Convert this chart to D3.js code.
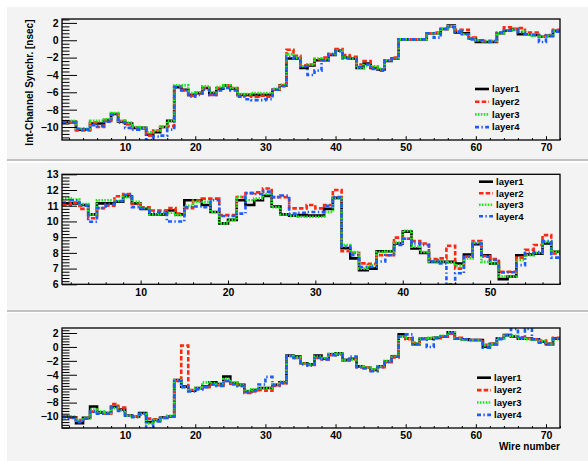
<!DOCTYPE html>
<html>
<head>
<meta charset="utf-8">
<script src="https://cdn.jsdelivr.net/npm/d3@7"></script>
<style>
  html, body { margin: 0; padding: 0; background: #ffffff; }
  svg { display: block; font-family: "Liberation Sans", Arial, Helvetica, sans-serif; font-weight: bold; }
</style>
</head>
<body>
<svg id="canvas" width="588" height="461"></svg>
<script>
// ---- data: per-wire synchronisation offsets (nsec), one array per layer ----
const layerNames = ["layer1", "layer2", "layer3", "layer4"];

// top panel, wires 1..71
const topLayer1 = [-9.4,-9.4,-10.3,-10.3,-9.6,-9.6,-9.2,-8.5,-9.4,-9.6,-10.1,-10.1,-10.9,-10.6,-10.0,-9.3,
  -5.4,-5.7,-6.3,-6.1,-5.5,-6.1,-5.6,-5.2,-5.6,-6.3,-6.3,-6.3,-6.3,-6.3,-5.7,-5.2,
  -2.1,-2.1,-3.2,-2.9,-2.3,-2.3,-1.7,-1.2,-2.0,-2.1,-3.2,-2.7,-3.2,-3.4,-2.4,-2.1,
  0.1,0.1,0.1,0.1,0.8,0.8,1.3,1.7,0.9,0.8,0.2,-0.2,-0.2,-0.2,0.8,1.1,
  1.3,0.7,0.7,0.6,0.4,0.5,1.1];
const topLayer2 = [-9.5,-9.5,-10.4,-10.4,-9.5,-10.0,-9.3,-8.5,-9.3,-9.7,-10.1,-10.2,-11.0,-10.4,-10.0,-9.9,
  -5.3,-5.8,-6.4,-6.1,-5.5,-6.3,-5.5,-5.2,-5.5,-6.3,-6.4,-6.5,-6.4,-6.5,-5.7,-5.2,
  -1.1,-1.8,-2.9,-2.8,-2.2,-2.0,-1.6,-1.0,-1.7,-1.9,-2.8,-2.4,-3.1,-3.5,-2.3,-2.0,
  0.1,0.1,0.1,0.1,0.8,0.9,1.3,1.6,1.2,1.2,0.3,0.0,-0.1,-0.1,0.9,1.5,
  1.3,1.4,0.9,0.9,0.4,0.6,1.2];
const topLayer3 = [-9.3,-9.3,-10.2,-10.2,-9.3,-9.3,-9.1,-8.4,-9.3,-9.5,-10.0,-10.1,-10.6,-10.4,-10.0,-9.3,
  -5.2,-5.2,-6.1,-6.0,-5.3,-6.0,-5.4,-5.2,-5.5,-6.2,-6.2,-6.1,-6.1,-6.1,-5.6,-5.1,
  -1.6,-2.0,-3.0,-2.8,-2.1,-2.2,-1.6,-1.2,-2.0,-2.1,-3.2,-2.9,-3.0,-3.3,-2.3,-2.1,
  0.1,0.1,0.1,0.1,0.8,0.8,1.3,1.6,1.0,0.7,0.2,0.0,-0.1,-0.1,0.8,1.1,
  1.2,1.0,0.7,0.5,0.4,0.5,1.1];
const topLayer4 = [-9.5,-9.5,-10.2,-10.3,-9.8,-9.9,-9.4,-8.6,-9.5,-10.1,-10.3,-10.2,-11.5,-11.1,-11.0,-10.3,
  -5.4,-5.8,-6.5,-6.3,-5.7,-6.3,-5.8,-5.5,-5.8,-6.5,-6.8,-6.9,-6.9,-6.8,-5.7,-5.3,
  -1.9,-2.1,-3.0,-4.0,-3.5,-2.3,-1.6,-1.3,-2.1,-2.1,-3.1,-2.8,-3.3,-3.4,-2.3,-2.1,
  0.1,0.1,0.1,0.1,0.8,0.3,1.3,1.5,1.0,0.7,0.1,0.0,-0.2,-0.1,0.9,1.1,
  1.2,0.9,0.7,0.6,-0.2,0.5,1.0];

// middle panel, wires 1..57
const midLayer1 = [11.15,11.15,11.05,10.45,11.15,11.15,11.25,11.6,11.15,10.8,
  10.45,10.45,10.7,10.45,11.35,11.35,11.05,10.6,9.88,10.1,
  11.35,11.05,11.35,11.63,10.95,10.45,10.37,10.4,10.37,10.37,
  10.8,11.5,8.3,7.65,6.9,7.0,8.1,8.1,8.6,9.35,
  8.28,8.0,7.43,7.43,7.43,7.32,7.9,8.55,7.85,7.32,
  6.33,6.5,7.85,7.9,7.95,8.6,8.07];
const midLayer2 = [11.05,11.2,10.8,10.2,10.85,11.0,11.6,11.75,11.1,10.9,
  10.7,10.7,10.85,10.5,10.85,11.35,11.45,11.45,10.4,10.4,
  11.55,11.8,11.85,12.1,11.55,11.55,10.83,10.83,11.05,10.83,
  11.05,12.0,8.1,8.0,7.33,7.3,7.85,7.85,8.97,8.9,
  8.75,8.6,7.6,7.65,8.45,7.0,7.75,8.75,7.8,7.6,
  6.8,6.8,7.7,8.2,8.5,9.13,7.97];
const midLayer3 = [11.47,11.4,11.1,10.45,11.35,11.35,11.3,11.55,11.25,10.85,
  10.45,10.5,10.55,10.4,11.0,11.25,11.25,10.6,9.88,10.1,
  11.57,11.35,11.45,11.75,10.9,10.45,10.37,10.3,10.3,10.3,
  10.6,11.45,8.5,8.05,7.0,7.2,8.05,8.1,8.65,9.4,
  8.4,8.05,7.45,7.43,7.38,7.2,7.65,8.65,7.43,7.32,
  6.5,6.5,7.55,7.85,8.0,8.7,8.07];
const midLayer4 = [11.2,11.35,11.0,9.98,10.85,11.1,11.3,11.7,10.9,10.85,
  10.6,10.6,10.0,10.0,10.9,10.95,10.9,11.35,10.35,10.35,
  10.5,11.8,11.75,11.9,11.55,11.65,10.5,10.55,10.6,10.6,
  11.0,11.55,8.4,7.85,7.1,7.1,7.45,7.85,8.5,8.9,
  8.6,8.5,7.45,7.32,6.0,6.7,7.75,8.6,7.75,7.55,
  6.75,6.77,7.22,8.0,8.05,8.75,7.7];

// bottom panel, wires 1..71
const botLayer1 = [-10.0,-10.1,-10.95,-10.2,-8.55,-9.4,-9.5,-8.6,-9.0,-9.85,-10.0,-9.5,-10.8,-10.5,-10.1,-10.0,
  -4.75,-5.7,-6.3,-5.9,-5.7,-5.1,-5.35,-4.25,-5.2,-5.45,-6.4,-6.2,-5.9,-5.9,-5.45,-5.1,
  -1.25,-1.4,-2.35,-2.5,-1.25,-1.7,-1.05,-0.9,-1.9,-1.7,-2.8,-3.0,-3.3,-2.8,-2.1,-1.4,
  1.8,1.2,0.4,1.2,1.2,1.3,1.5,2.1,1.2,1.1,1.0,1.0,0.05,0.4,1.2,1.7,
  1.5,1.2,1.2,1.1,0.75,0.4,1.2];
const botLayer2 = [-10.0,-10.1,-10.5,-10.3,-9.3,-9.5,-9.6,-8.2,-8.7,-9.9,-10.0,-9.7,-10.3,-10.4,-10.1,-10.0,
  -4.9,0.2,-6.2,-6.0,-5.8,-5.4,-5.5,-4.9,-5.3,-5.6,-6.6,-6.4,-6.2,-6.3,-5.6,-5.2,
  -1.3,-1.6,-2.4,-2.6,-1.6,-1.8,-1.2,-1.1,-1.9,-1.8,-2.9,-3.0,-3.3,-2.9,-2.2,-1.5,
  1.5,1.1,0.6,1.2,1.2,1.3,1.5,1.9,1.3,1.1,1.0,1.0,0.3,0.5,1.2,1.6,
  1.5,1.4,1.2,1.1,0.9,0.5,1.3];
const botLayer3 = [-10.0,-10.0,-10.6,-10.2,-9.0,-9.3,-9.5,-8.8,-9.1,-9.9,-10.0,-9.6,-11.0,-10.5,-10.2,-9.9,
  -4.75,-5.8,-6.2,-5.9,-5.1,-5.2,-5.3,-4.6,-5.1,-5.5,-6.3,-6.1,-5.9,-5.9,-5.4,-5.0,
  -1.3,-1.5,-2.4,-2.5,-1.4,-1.6,-1.0,-0.9,-1.9,-1.8,-2.8,-3.0,-3.2,-2.8,-2.0,-1.3,
  1.5,1.2,0.5,1.2,1.3,1.4,1.6,2.1,1.2,1.0,1.0,0.9,0.2,0.4,1.2,1.6,
  1.6,1.2,1.1,1.0,0.8,0.4,1.1];
const botLayer4 = [-10.1,-10.2,-10.8,-10.3,-9.3,-9.6,-9.6,-8.7,-9.2,-9.9,-10.1,-9.6,-11.7,-10.7,-10.2,-10.0,
  -4.9,-5.8,-6.4,-6.1,-5.8,-5.4,-5.6,-4.9,-5.4,-5.6,-6.5,-6.3,-5.4,-4.3,-5.5,-5.2,
  -1.3,-1.6,-2.5,-2.7,-1.6,-1.8,-1.2,-1.1,-1.8,-1.4,-2.9,-3.1,-3.5,-2.9,-2.2,-1.4,
  1.5,1.8,0.4,1.1,0.0,1.3,1.5,2.0,1.2,1.1,1.0,1.0,-0.1,0.4,1.1,1.7,
  2.6,1.3,2.6,1.1,0.6,0.4,1.2];

// axis tick labels
const xTicksLong = [10, 20, 30, 40, 50, 60, 70];
const xTicksShort = [10, 20, 30, 40, 50];
const yTicksOffset = [2, 0, -2, -4, -6, -8, -10];
const yTicksMid = [13, 12, 11, 10, 9, 8, 7, 6];

const yTitle = "Int-Channel Synchr. [nsec]";
const xTitle = "Wire number";

// ---- styling ----
const layerColors = ["#000000", "#ff2a10", "#1ee81e", "#1f5cff"];
const layerDash = [null, "4.5,2.2", "1.6,1.3", "4,2.4,1.4,2.4"];
const padFill = "#f3f3f3";

const W = 588, H = 461;
const svg = d3.select("#canvas");
svg.append("rect").attr("width", W).attr("height", H).attr("fill", "#ffffff");

const panels = [
  {
    pad: [7, 161], frame: { l: 62, r: 560, t: 19, b: 140 },
    xEnd: 72, yDomain: [-11.5, 2.45], yMajor: yTicksOffset, yMinorStep: 0.4,
    xTicks: xTicksLong, series: [topLayer1, topLayer2, topLayer3, topLayer4],
    legend: { x: 475, y: 89, dy: 12.7 }, yTitle: true
  },
  {
    pad: [163, 312], frame: { l: 62, r: 560, t: 174.3, b: 284.3 },
    xEnd: 58, yDomain: [6, 13], yMajor: yTicksMid, yMinorStep: 0.2,
    xTicks: xTicksShort, series: [midLayer1, midLayer2, midLayer3, midLayer4],
    legend: { x: 479, y: 181.7, dy: 11.5 }
  },
  {
    pad: [313, 461], frame: { l: 62, r: 560, t: 328, b: 428 },
    xEnd: 72, yDomain: [-11.65, 2.72], yMajor: yTicksOffset, yMinorStep: 0.4,
    xTicks: xTicksLong, series: [botLayer1, botLayer2, botLayer3, botLayer4],
    legend: { x: 477, y: 377.7, dy: 12.4 }, xTitle: true
  }
];

const firstWire = 1;

panels.forEach((p, pi) => {
  const g = svg.append("g");
  const f = p.frame;

  // pad background with its lower bevel edge
  g.append("rect").attr("x", 7).attr("y", p.pad[0]).attr("width", W - 7).attr("height", p.pad[1] - p.pad[0])
    .attr("fill", padFill);
  if (p.pad[1] < H) {
    g.append("line").attr("x1", 7).attr("x2", W).attr("y1", p.pad[1] - 1).attr("y2", p.pad[1] - 1)
      .attr("stroke", "#c2c2c2").attr("stroke-width", 2);
  }

  const x = d3.scaleLinear().domain([firstWire, p.xEnd]).range([f.l, f.r]);
  const y = d3.scaleLinear().domain(p.yDomain).range([f.b, f.t]);

  // clip region for the histograms
  const clipId = "clip" + pi;
  svg.append("clipPath").attr("id", clipId).append("rect")
    .attr("x", f.l).attr("y", f.t).attr("width", f.r - f.l).attr("height", f.b - f.t);

  // histogram outlines
  const line = d3.line().curve(d3.curveStepAfter).x(d => x(d[0])).y(d => y(d[1]));
  const plot = g.append("g").attr("clip-path", `url(#${clipId})`);
  p.series.forEach((vals, li) => {
    const pts = vals.map((v, i) => [firstWire + i, v]);
    pts.push([firstWire + vals.length, vals[vals.length - 1]]);
    plot.append("path").attr("d", line(pts))
      .attr("fill", "none").attr("stroke", layerColors[li]).attr("stroke-width", 2.6)
      .attr("stroke-dasharray", layerDash[li]);
  });

  // y axis: major ticks with labels, minor ticks inside the frame
  const yMin = p.yDomain[0], yMax = p.yDomain[1], step = p.yMinorStep;
  const minorY = d3.range(Math.ceil(yMin / step - 1e-6), Math.floor(yMax / step + 1e-6) + 1)
    .map(k => +(k * step).toFixed(4))
    .filter(v => !p.yMajor.some(m => Math.abs(m - v) < 1e-6));
  g.append("g").attr("transform", `translate(${f.l},0)`)
    .call(d3.axisLeft(y).tickValues(minorY).tickSize(-7.5).tickFormat(""))
    .call(a => a.select(".domain").remove())
    .call(a => a.selectAll("line").attr("stroke", "#000"));
  g.append("g").attr("transform", `translate(${f.l},0)`)
    .call(d3.axisLeft(y).tickValues(p.yMajor).tickSize(-15).tickPadding(3.5).tickFormat(d3.format("d")))
    .call(a => a.select(".domain").remove())
    .call(a => a.selectAll("line").attr("stroke", "#000"))
    .call(a => a.selectAll("text").attr("font-size", 10.5).attr("font-weight", "bold")
      .attr("font-family", "Liberation Sans, Arial, sans-serif").attr("fill", "#000"));

  // x axis: major ticks every 10 wires, minor every 2
  const minorX = d3.range(2, p.xEnd + 0.001, 2).filter(v => v % 10 !== 0);
  g.append("g").attr("transform", `translate(0,${f.b})`)
    .call(d3.axisBottom(x).tickValues(minorX).tickSize(-2).tickFormat(""))
    .call(a => a.select(".domain").remove())
    .call(a => a.selectAll("line").attr("stroke", "#000"));
  g.append("g").attr("transform", `translate(0,${f.b})`)
    .call(d3.axisBottom(x).tickValues(p.xTicks).tickSize(-3.8).tickPadding(4).tickFormat(d3.format("d")))
    .call(a => a.select(".domain").remove())
    .call(a => a.selectAll("line").attr("stroke", "#000"))
    .call(a => a.selectAll("text").attr("font-size", 10.5).attr("font-weight", "bold")
      .attr("font-family", "Liberation Sans, Arial, sans-serif").attr("fill", "#000"));

  // frame
  g.append("rect").attr("x", f.l).attr("y", f.t).attr("width", f.r - f.l).attr("height", f.b - f.t)
    .attr("fill", "none").attr("stroke", "#000").attr("stroke-width", 1.3);

  // legend
  const lg = g.append("g");
  layerNames.forEach((name, li) => {
    const yy = p.legend.y + li * p.legend.dy;
    lg.append("line").attr("x1", p.legend.x).attr("x2", p.legend.x + 14)
      .attr("y1", yy).attr("y2", yy)
      .attr("stroke", layerColors[li]).attr("stroke-width", 2.6)
      .attr("stroke-dasharray", layerDash[li]);
    lg.append("text").attr("x", p.legend.x + 17).attr("y", yy).attr("dy", "0.35em")
      .attr("font-size", 9.5).attr("fill", "#000").text(name);
  });

  if (p.yTitle) {
    g.append("text").attr("transform", `translate(33.3,${f.t + 0.5}) rotate(-90)`)
      .attr("text-anchor", "end").attr("font-size", 10).attr("fill", "#000").text(yTitle);
  }
  if (p.xTitle) {
    g.append("text").attr("x", f.r).attr("y", 449.5).attr("text-anchor", "end")
      .attr("font-size", 10).attr("fill", "#000").text(xTitle);
  }
});
</script>
</body>
</html>
